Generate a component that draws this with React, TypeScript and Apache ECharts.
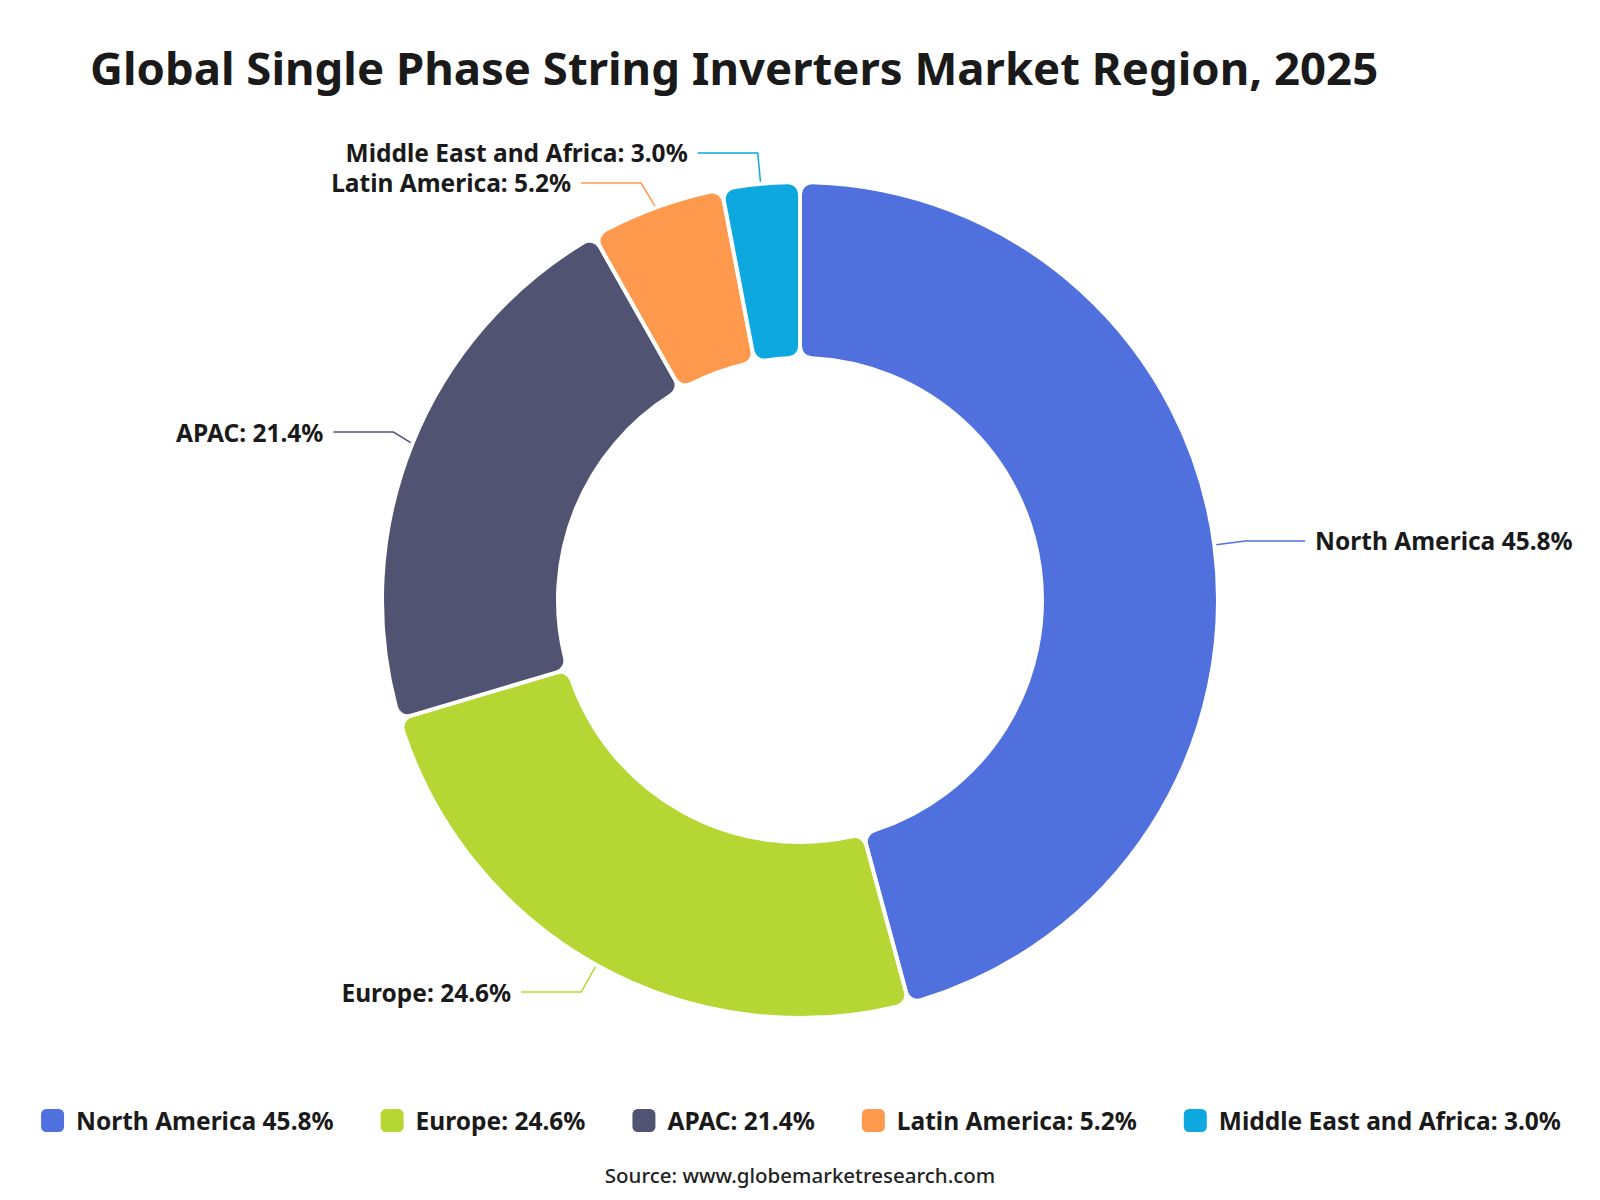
import React, { useEffect, useRef } from "react";
import * as echarts from "echarts";

const titleText = "Global Single Phase String Inverters Market Region, 2025";
const sourceText = "Source: www.globemarketresearch.com";
const categories = [
  "North America 45.8%",
  "Europe: 24.6%",
  "APAC: 21.4%",
  "Latin America: 5.2%",
  "Middle East and Africa: 3.0%",
];
const values = [45.8, 24.6, 21.4, 5.2, 3.0];
const colors = ["#5070dd", "#b6d634", "#505372", "#ff994d", "#0ca8df"];

const FONT = "'Noto Sans', 'Open Sans', sans-serif";

export default function App() {
  const ref = useRef<HTMLDivElement>(null);
  useEffect(() => {
    document.body.style.margin = "0";
    const chart = echarts.init(ref.current!, null, { renderer: "svg" });
    chart.setOption({
      animation: false,
      backgroundColor: "#ffffff",
      color: colors,
      title: {
        text: titleText,
        left: 85,
        top: 39,
        textStyle: { fontFamily: FONT, fontSize: 45.5, fontWeight: "bold", color: "#1a1a1a" },
      },
      graphic: [
        {
          type: "text",
          left: "center",
          top: 1164,
          style: { text: sourceText, fontFamily: FONT, fontSize: 20.5, fontWeight: 500, fill: "#222" },
        },
      ],
      legend: {
        bottom: 61,
        left: "center",
        itemWidth: 25,
        itemHeight: 25,
        itemGap: 45,
        icon: "roundRect",
        textStyle: { fontFamily: FONT, fontSize: 24.5, fontWeight: "bold", color: "#1a1a1a", padding: [0, 0, 0, 6] },
        data: categories,
      },
      series: [
        {
          type: "pie",
          center: [800, 600],
          radius: [242, 418],
          startAngle: 90,
          clockwise: true,
          itemStyle: { borderColor: "#fff", borderWidth: 4, borderRadius: 12 },
          label: {
            show: true,
            formatter: "{b}",
            fontFamily: FONT,
            fontSize: 24.5,
            lineHeight: 28,
            fontWeight: "bold",
            color: "#1a1a1a",
            distanceToLabelLine: 10,
          },
          labelLine: { show: true, length: 31, length2: 60, lineStyle: { width: 1.5 } },
          data: categories.map((c, i) => ({ name: c, value: values[i] })),
        },
      ],
    });
    return () => chart.dispose();
  }, []);
  return <div ref={ref} style={{ width: 1600, height: 1200 }} />;
}
